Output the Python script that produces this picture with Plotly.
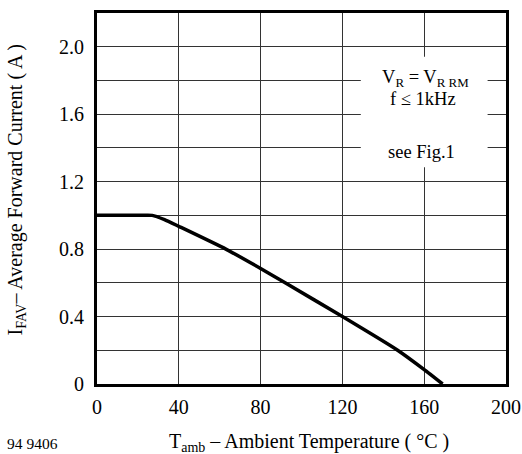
import plotly.graph_objects as go

# Derating curve: ambient temperature (°C) vs average forward current (A)
temp_c = [0, 20, 27, 33, 40, 63, 80, 92, 120, 147, 160, 169]
i_fav = [1.0, 1.0, 1.0, 0.975, 0.935, 0.80, 0.685, 0.60, 0.40, 0.20, 0.085, 0.0]

x_ticks = [0, 40, 80, 120, 160, 200]
x_ticktext = ["0", "40", "80", "120", "160", "200"]
y_ticks = [0, 0.4, 0.8, 1.2, 1.6, 2.0]
y_ticktext = ["0", "0.4", "0.8", "1.2", "1.6", "2.0"]

FONT = "Liberation Serif, Times New Roman, serif"
GRID = "#333"

fig = go.Figure()
fig.add_trace(go.Scatter(x=temp_c, y=i_fav, mode="lines",
                         line=dict(color="black", width=3.5, shape="spline", smoothing=0.5),
                         showlegend=False, hoverinfo="skip"))

fig.update_layout(
    width=522, height=454,
    margin=dict(l=97, r=16, t=13, b=70),
    paper_bgcolor="white", plot_bgcolor="white",
    font=dict(family=FONT, size=20, color="black"),
    xaxis=dict(range=[0, 200], tickvals=x_ticks, ticktext=x_ticktext,
               showgrid=True, gridcolor=GRID, gridwidth=1, automargin=False,
               showline=True, linecolor="black", linewidth=3, mirror=True,
               ticks="", zeroline=False, ticklabelstandoff=3,
               tickfont=dict(family=FONT, size=20)),
    yaxis=dict(range=[0, 2.2], tickvals=y_ticks, ticktext=y_ticktext,
               showgrid=True, gridcolor=GRID, gridwidth=1, automargin=False,
               minor=dict(dtick=0.2, tick0=0, showgrid=True, gridcolor=GRID, gridwidth=1),
               showline=True, linecolor="black", linewidth=3, mirror=True,
               ticks="", zeroline=False, ticklabelstandoff=6,
               tickfont=dict(family=FONT, size=20)),
)

# white box behind the condition text
fig.add_shape(type="rect", xref="x", yref="y", x0=129, x1=191, y0=1.285, y1=1.94,
              fillcolor="white", line=dict(width=0), layer="above")

fig.add_annotation(x=160.5, y=1.81, xref="x", yref="y", showarrow=False,
                   text="V<sub>R</sub> = V<sub>R RM</sub>", font=dict(size=18.5))
fig.add_annotation(x=159.5, y=1.69, xref="x", yref="y", showarrow=False,
                   text="f ≤ 1kHz", font=dict(size=18.5))
fig.add_annotation(x=158.5, y=1.374, xref="x", yref="y", showarrow=False,
                   text="see Fig.1", font=dict(size=18.5))

# axis titles
fig.add_annotation(x=0.518, y=-0.157, xref="paper", yref="paper", showarrow=False,
                   xanchor="center", yanchor="middle",
                   text="T<sub>amb</sub> – Ambient Temperature ( °C )", font=dict(size=20))
fig.add_annotation(x=-0.196, y=0.524, xref="paper", yref="paper", showarrow=False,
                   xanchor="center", yanchor="middle", textangle=-90,
                   text="I<sub>FAV</sub>– Average Forward Current ( A )", font=dict(size=20))
fig.add_annotation(x=-0.225, y=-0.161, xref="paper", yref="paper", showarrow=False,
                   xanchor="left", yanchor="middle",
                   text="94 9406", font=dict(size=15.5))

fig.write_html("out.html", config={"displayModeBar": False},
               post_script="document.body.style.margin='0';")
